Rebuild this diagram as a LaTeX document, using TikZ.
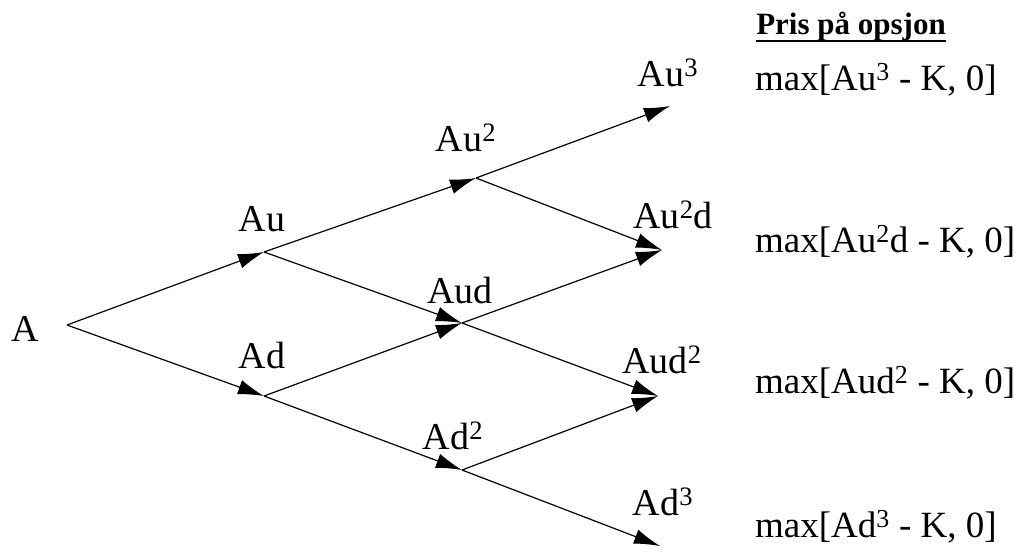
\documentclass[tikz,border=0pt]{standalone}
\usepackage{fontspec}
\setmainfont{Liberation Serif}
\usetikzlibrary{arrows.meta,positioning}
\begin{document}
\begin{tikzpicture}[x=1pt,y=-1pt,
    lbl/.style={font=\fontsize{38}{42}\selectfont,inner sep=0pt,anchor=base},
    pris/.style={font=\fontsize{37}{42}\selectfont,inner sep=0pt,anchor=base west},
    grn/.style={-{Latex[length=26pt,width=15pt]},line width=1.2pt}]
  \useasboundingbox (0,0) rectangle (1016,555);
  \path
    (67,325) coordinate (s0)
    (264,252) coordinate (u1)
    (264,396) coordinate (d1)
    (476,178) coordinate (uu2)
    (462,323) coordinate (ud2)
    (462,470) coordinate (dd2)
    (670,106) coordinate (uuu3)
    (662,250) coordinate (uud3)
    (658,396) coordinate (udd3)
    (660,546) coordinate (ddd3);
  \draw
    (25,341) node[lbl] (A){A}
    (262,231) node[lbl] (Au){Au}
    (262,368) node[lbl] (Ad){Ad}
    (466,151) node[lbl] (Au2){Au\textsuperscript{2}}
    (460,303) node[lbl] (Aud){Aud}
    (453,449) node[lbl] (Ad2){Ad\textsuperscript{2}}
    (668,86) node[lbl] (Au3){Au\textsuperscript{3}}
    (673,228) node[lbl] (Au2d){Au\textsuperscript{2}d}
    (662,373) node[lbl] (Aud2){Aud\textsuperscript{2}}
    (663,515) node[lbl] (Ad3){Ad\textsuperscript{3}};
  \draw
    (755,90) node[pris] (p3){max[Au\textsuperscript{3} - K, 0]}
    (755,252) node[pris] (p2){max[Au\textsuperscript{2}d - K, 0]}
    (755,393) node[pris] (p1){max[Aud\textsuperscript{2} - K, 0]}
    (755,537) node[pris] (p0){max[Ad\textsuperscript{3} - K, 0]};
  \node[font=\fontsize{31}{36}\selectfont\bfseries,inner sep=0pt,anchor=base]
    (tittel) at (851,34) {Pris på opsjon};
  \draw[line width=2pt] (tittel.south west) -- (tittel.south east);
  \begin{scope}[grn]
    \draw (s0) to (u1);
    \draw (s0) to (d1);
    \draw (u1) to (uu2);
    \draw (u1) to (ud2);
    \draw (d1) to (ud2);
    \draw (d1) to (dd2);
    \draw (uu2) to (uuu3);
    \draw (uu2) to (uud3);
    \draw (ud2) to (uud3);
    \draw (ud2) to (udd3);
    \draw (dd2) to (udd3);
    \draw (dd2) to (ddd3);
  \end{scope}
\end{tikzpicture}
\end{document}
